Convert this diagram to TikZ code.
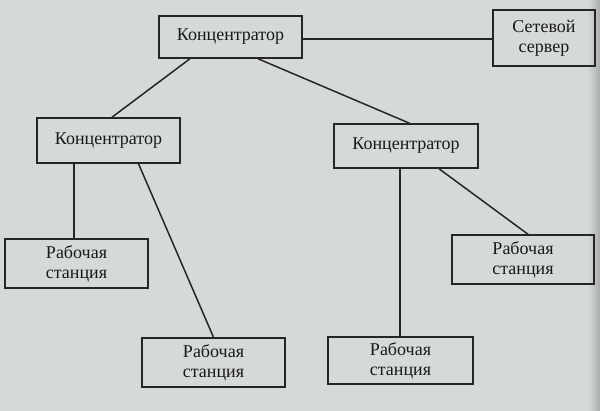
\documentclass[tikz,border=0pt]{standalone}
\usepackage{fontspec}
\setmainfont{Liberation Serif}
\begin{document}
\begin{tikzpicture}[x=1pt,y=-1pt,
  box/.style={draw=black!85,line width=1.5pt,fill=none,inner sep=0pt,align=center,
    font=\fontsize{18}{20}\selectfont,text=black!90},
  link/.style={draw=black!85,line width=1.5pt}]
\fill[color={rgb,255:red,214;green,217;blue,217}] (0,0) rectangle (600,411);
\shade[left color={rgb,255:red,214;green,217;blue,217},right color={rgb,255:red,170;green,172;blue,172}] (588,0) rectangle (600,411);
\useasboundingbox (0,0) rectangle (600,411);
\node[box,minimum width=143pt,minimum height=42pt] (top) at (230.5,37) {Концентратор};
\node[box,minimum width=102pt,minimum height=56pt] (srv) at (544,38) {Сетевой\\сервер};
\node[box,minimum width=143pt,minimum height=45pt] (lh) at (108.5,140.5) {Концентратор};
\node[box,minimum width=144pt,minimum height=44pt] (rh) at (406,146) {Концентратор};
\node[box,minimum width=143pt,minimum height=49pt] (ws1) at (76.5,263.5) {Рабочая\\станция};
\node[box,minimum width=143pt,minimum height=49pt] (ws2) at (213.5,362.5) {Рабочая\\станция};
\node[box,minimum width=145pt,minimum height=47pt] (ws3) at (400.5,360.5) {Рабочая\\станция};
\node[box,minimum width=142pt,minimum height=49pt] (ws4) at (523,259.5) {Рабочая\\станция};
\draw[link] ([yshift=-2pt]top.east) -- ([yshift=-2pt]top.east -| srv.west);
\draw[link] ([xshift=-40.5pt]top.south) -- ([xshift=3.5pt]lh.north);
\draw[link] ([xshift=27.5pt]top.south) -- ([xshift=3.5pt]rh.north);
\draw[link] ([xshift=-34.5pt]lh.south) -- ([xshift=-34.5pt]lh.south |- ws1.north);
\draw[link] ([xshift=30pt]lh.south) -- (ws2.north);
\draw[link] ([xshift=-6pt]rh.south) -- ([xshift=-6pt]rh.south |- ws3.north);
\draw[link] ([xshift=33pt]rh.south) -- ([xshift=5pt]ws4.north);
\end{tikzpicture}
\end{document}
